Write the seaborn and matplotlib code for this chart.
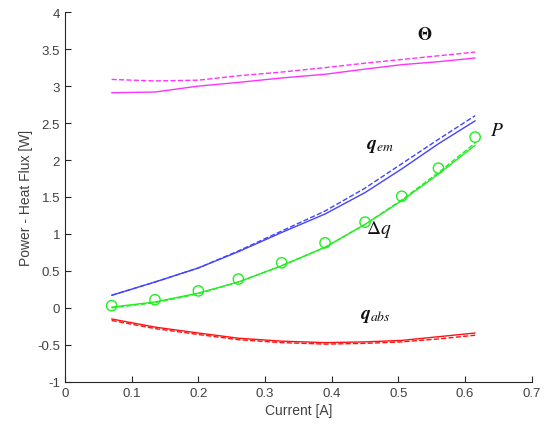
import matplotlib
matplotlib.use("Agg")
import matplotlib.pyplot as plt
import seaborn as sns
import numpy as np
import pandas as pd

current = [0.07, 0.135, 0.2, 0.26, 0.325, 0.39, 0.45, 0.505, 0.56, 0.615]
P_meas = [0.03, 0.11, 0.23, 0.39, 0.61, 0.88, 1.16, 1.51, 1.89, 2.31]
dq_solid = [0.01, 0.08, 0.20, 0.35, 0.57, 0.82, 1.13, 1.45, 1.81, 2.20]
dq_dash = [0.00, 0.07, 0.19, 0.35, 0.57, 0.82, 1.13, 1.46, 1.83, 2.23]
qem_solid = [0.17, 0.35, 0.54, 0.76, 1.02, 1.27, 1.56, 1.88, 2.22, 2.53]
qem_dash = [0.17, 0.35, 0.54, 0.77, 1.04, 1.31, 1.62, 1.95, 2.28, 2.60]
qabs_solid = [-0.15, -0.26, -0.34, -0.41, -0.45, -0.47, -0.46, -0.44, -0.39, -0.34]
qabs_dash = [-0.17, -0.28, -0.36, -0.43, -0.47, -0.49, -0.48, -0.46, -0.42, -0.37]
theta_solid = [2.91, 2.92, 3.00, 3.05, 3.11, 3.16, 3.23, 3.29, 3.33, 3.38]
theta_dash = [3.09, 3.07, 3.08, 3.14, 3.19, 3.25, 3.31, 3.36, 3.41, 3.46]

x_ticks = [0, 0.1, 0.2, 0.3, 0.4, 0.5, 0.6, 0.7]
y_ticks = [-1, -0.5, 0, 0.5, 1, 1.5, 2, 2.5, 3, 3.5, 4]

sns.set_theme(style="ticks")
plt.rcParams['font.family'] = ['Liberation Sans', 'DejaVu Sans']
plt.rcParams['mathtext.fontset'] = 'stix'

fig = plt.figure(figsize=(5.46, 4.39), dpi=100)
ax = fig.add_axes([0.119, 0.128, 0.855, 0.842])

series = [
    (theta_solid, '#ff33ff', '-'), (theta_dash, '#ff33ff', '--'),
    (qem_solid, '#4444ff', '-'), (qem_dash, '#4444ff', '--'),
    (dq_solid, '#22ee22', '-'), (dq_dash, '#22ee22', '--'),
    (qabs_solid, '#ff1111', '-'), (qabs_dash, '#ff1111', '--'),
]
for vals, col, ls in series:
    sns.lineplot(x=current, y=vals, ax=ax, color=col, linestyle=ls, linewidth=1.0)

sns.scatterplot(x=current, y=P_meas, ax=ax, marker='o', s=55,
                facecolors='none', edgecolor='#22ee22', linewidth=1.0)

ax.text(0.54, 3.7, r'$\mathbf{\Theta}$', fontsize=13, ha='center', va='center', color='#111111')
ax.text(0.472, 2.2, r'$\boldsymbol{q}_{em}$', fontsize=14, ha='center', va='center', color='#111111')
ax.text(0.648, 2.4, r'$P$', fontsize=14, ha='center', va='center', color='#111111')
ax.text(0.47, 1.08, r'$\Delta q$', fontsize=14, ha='center', va='center', color='#111111')
ax.text(0.465, -0.1, r'$\boldsymbol{q}_{abs}$', fontsize=14, ha='center', va='center', color='#111111')

ax.set_xlim(0, 0.7)
ax.set_ylim(-1, 4)
ax.set_xticks(x_ticks)
ax.set_xticklabels([f'{t:g}' for t in x_ticks])
ax.set_yticks(y_ticks)
ax.set_yticklabels([f'{t:g}' for t in y_ticks])
ax.tick_params(direction='in', length=4, width=0.8, colors='#262626', labelsize=9.5, labelcolor='#404040')
for s in ['top', 'right']:
    ax.spines[s].set_visible(False)
for s in ['left', 'bottom']:
    ax.spines[s].set_color('#262626')
    ax.spines[s].set_linewidth(0.8)
ax.set_xlabel('Current [A]', fontsize=10, color='#404040', labelpad=3)
ax.set_ylabel('Power - Heat Flux [W]', fontsize=10, color='#404040', labelpad=3)

fig.savefig('out.png', dpi=100)
